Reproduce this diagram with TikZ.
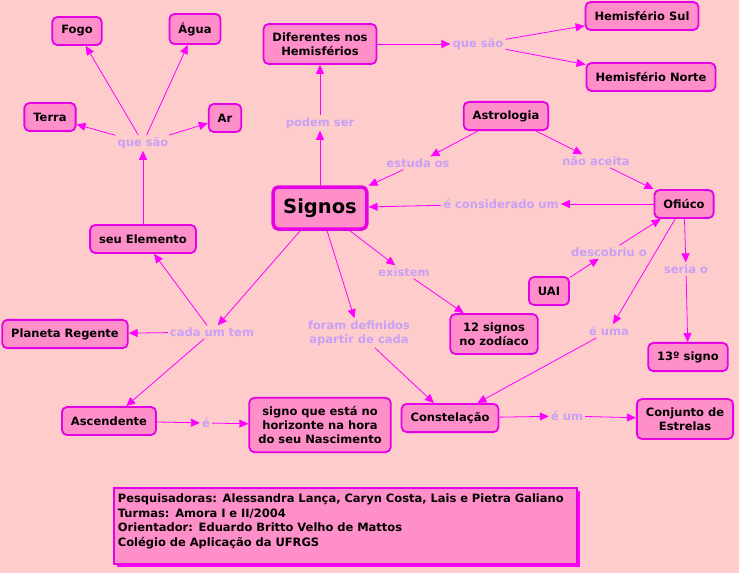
\documentclass[tikz,border=0pt]{standalone}
\usepackage{fontspec}
\setmainfont{DejaVu Sans}
\usetikzlibrary{arrows.meta,shadows}
\definecolor{fundo}{HTML}{FFCCCC}
\definecolor{caixa}{HTML}{FF8FC8}
\definecolor{borda}{HTML}{E600E6}
\definecolor{seta}{HTML}{FF00FF}
\definecolor{rotulo}{HTML}{C8A0F5}

\begin{document}
\begin{tikzpicture}[x=1pt, y=-1pt, ->, >={Triangle[length=9pt,width=8pt]},
    main/.style={draw=borda, fill=caixa, rounded corners=5pt, line width=1.8pt, inner xsep=9pt, inner ysep=8.5pt, minimum height=28pt, align=center, font=\bfseries\fontsize{11.5}{14}\selectfont},
    link/.style={text=rotulo, inner sep=2pt, align=center, font=\bfseries\fontsize{11.5}{14}\selectfont},
    every edge/.style={draw=seta, line width=0.8pt}]

        \useasboundingbox[fill=fundo] (0,0) rectangle (739,573);

        % conceitos
        \node[main, line width=3.5pt, inner xsep=10pt, inner ysep=4pt, minimum height=42pt, font=\bfseries\fontsize{19.5}{20}\selectfont] (signos) at (320,208) {Signos};
        \node[main] (fogo) at (77,31) {Fogo};
        \node[main] (agua) at (195,29) {Água};
        \node[main] (terra) at (50,117) {Terra};
        \node[main] (ar) at (225,118) {Ar};
        \node[main] (elemento) at (143,239) {seu Elemento};
        \node[main] (diferentes) at (320,44) {Diferentes nos\\Hemisférios};
        \node[main] (sul) at (642,16) {Hemisfério Sul};
        \node[main] (norte) at (651,77) {Hemisfério Norte};
        \node[main] (astrologia) at (506,116) {Astrologia};
        \node[main] (ofiuco) at (684,204) {Ofiúco};
        \node[main] (uai) at (549,291) {UAI};
        \node[main] (doze) at (494,334) {12 signos\\no zodíaco};
        \node[main] (treze) at (688,357) {13º signo};
        \node[main] (planeta) at (65,334) {Planeta Regente};
        \node[main] (ascendente) at (109,421) {Ascendente};
        \node[main] (horizonte) at (320,425) {signo que está no\\horizonte na hora\\do seu Nascimento};
        \node[main] (constelacao) at (450,418) {Constelação};
        \node[main] (conjunto) at (685,419) {Conjunto de\\Estrelas};

        % frases de ligacao
        \node[link] (saoA) at (143,143) {que são};
        \node[link] (podem) at (320,123) {podem ser};
        \node[link] (saoB) at (478,44) {que são};
        \node[link] (estuda) at (418,163) {estuda os};
        \node[link] (naoaceita) at (596,161) {não aceita};
        \node[link] (considerado) at (501,204) {é considerado um};
        \node[link] (descobriu) at (609,252) {descobriu o};
        \node[link] (existem) at (404,272) {existem};
        \node[link] (seria) at (686,269) {seria o};
        \node[link] (cada) at (212,332) {cada um tem};
        \node[link] (foram) at (359,333) {foram definidos\\apartir de cada};
        \node[link] (euma) at (609,331) {é uma};
        \node[link] (e) at (206,423) {é};
        \node[link] (eum) at (567,416) {é um};

        \node[main, rounded corners=0pt, anchor=north west, text width=455pt, inner xsep=4pt, inner ysep=6pt, align=left, font=\bfseries\fontsize{11.5}{14.5}\selectfont,
            drop shadow={shadow xshift=3pt, shadow yshift=-3pt, fill=seta, opacity=1}] (creditos) at (113,487)
            {Pesquisadoras: Alessandra Lança, Caryn Costa, Lais e Pietra Galiano\\Turmas: Amora I e II/2004\\Orientador: Eduardo Britto Velho de Mattos\\Colégio de Aplicação da UFRGS\\[-3pt]\mbox{}};

        \path
            (elemento) edge (saoA)
            (saoA) edge (fogo)
            (saoA) edge (agua)
            (saoA) edge (terra)
            (saoA) edge (ar)
            (signos) edge (podem)
            (podem) edge (diferentes)
            (diferentes) edge (saoB)
            (saoB) edge (sul)
            (saoB) edge (norte)
            (astrologia) edge (estuda)
            (estuda) edge (signos)
            (astrologia) edge (naoaceita)
            (naoaceita) edge (ofiuco)
            (ofiuco) edge (considerado)
            (considerado) edge (signos)
            (uai) edge (descobriu)
            (descobriu) edge (ofiuco)
            (ofiuco) edge (seria)
            (seria) edge (treze)
            (ofiuco) edge (euma)
            (euma) edge (constelacao)
            (signos) edge (existem)
            (existem) edge (doze)
            (signos) edge (foram)
            (foram) edge (constelacao)
            (constelacao) edge (eum)
            (eum) edge (conjunto)
            (signos) edge (cada)
            (cada) edge (elemento)
            (cada) edge (planeta)
            (cada) edge (ascendente)
            (ascendente) edge (e)
            (e) edge (horizonte)
            ;
        \end{tikzpicture}
\end{document}
